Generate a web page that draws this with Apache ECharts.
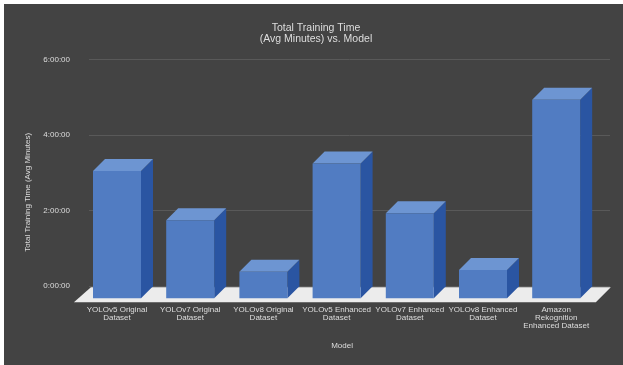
<!DOCTYPE html>
<html>
<head>
<meta charset="utf-8">
<style>html,body{margin:0;padding:0;background:#fff}#chart{width:623px;height:365px}</style>
<script src="https://cdn.jsdelivr.net/npm/echarts@6/dist/echarts.min.js"></script>
</head>
<body>
<div id="chart"></div>
<script>
// Average training time per model, in minutes
const models = [
  'YOLOv5 Original\nDataset',
  'YOLOv7 Original\nDataset',
  'YOLOv8 Original\nDataset',
  'YOLOv5 Enhanced\nDataset',
  'YOLOv7 Enhanced\nDataset',
  'YOLOv8 Enhanced\nDataset',
  'Amazon\nRekognition\nEnhanced Dataset'
];
const avgMinutes = [202, 124, 42, 214, 135, 45, 315];

const DEPTH = 12;        // pseudo-3D offset of the bars
const BAR_WIDTH = 48;
const FLOOR_DEPTH = 15;
const INK = '#dedede';
const FONT = '"Liberation Sans", Arial, sans-serif';

const formatClock = m => Math.floor(m / 60) + ':' + String(m % 60).padStart(2, '0') + ':00';

// One extruded bar: front face, lit top, shaded side
function renderBar(params, api) {
  const base = api.coord([api.value(0), 0]);
  const top = api.coord([api.value(0), api.value(1)]);
  const l = base[0] - BAR_WIDTH / 2, r = l + BAR_WIDTH;
  const t = top[1], b = base[1];
  return {
    type: 'group',
    children: [
      { type: 'polygon', shape: { points: [[r, t], [r + DEPTH, t - DEPTH], [r + DEPTH, b - DEPTH], [r, b]] },
        style: { fill: '#2a55a2' } },
      { type: 'polygon', shape: { points: [[l, t], [l + DEPTH, t - DEPTH], [r + DEPTH, t - DEPTH], [r, t]] },
        style: { fill: '#6d95d2' } },
      { type: 'rect', shape: { x: l, y: t, width: BAR_WIDTH, height: b - t },
        style: { fill: '#517cc2' } }
    ]
  };
}

// Pale floor slab below the bars, spanning the plot width
function renderFloor(params, api) {
  const cs = params.coordSys;
  const y = api.coord([0, 0])[1] + 4;
  const left = cs.x - 6.5, right = cs.x + cs.width + 3;
  return {
    type: 'polygon',
    shape: { points: [[left, y], [left + FLOOR_DEPTH + 2, y - FLOOR_DEPTH], [right + FLOOR_DEPTH, y - FLOOR_DEPTH], [right, y]] },
    style: { fill: '#ececec' }
  };
}

const chart = echarts.init(document.getElementById('chart'), null, { renderer: 'canvas' });
chart.setOption({
  animation: false,
  backgroundColor: '#ffffff',
  graphic: [{
    type: 'rect', z: -10, silent: true,
    shape: { x: 4, y: 4, width: 619, height: 361 },
    style: { fill: '#434343' }
  }],
  title: {
    text: 'Total Training Time\n(Avg Minutes) vs. Model',
    left: 311, top: 18, textAlign: 'center',
    textStyle: { color: INK, fontFamily: FONT, fontSize: 10.5, fontWeight: 'normal', lineHeight: 11 }
  },
  grid: [
    { left: 89, top: 59.4, width: 521, height: 226.8 },     // back wall carrying the gridlines
    { left: 80.4, top: 71.5, width: 512.4, height: 226.8 }  // front plane carrying the bars
  ],
  xAxis: [
    { gridIndex: 0, type: 'category', data: models, show: false },
    {
      gridIndex: 1, type: 'category', data: models,
      name: 'Model', nameLocation: 'middle', nameGap: 43,
      nameTextStyle: { color: INK, fontFamily: FONT, fontSize: 8, padding: [0, 0, 0, 11] },
      axisLine: { show: false }, axisTick: { show: false },
      axisLabel: { color: INK, fontFamily: FONT, fontSize: 8, lineHeight: 8, margin: 7, interval: 0 }
    }
  ],
  yAxis: [
    {
      gridIndex: 0, type: 'value', min: 0, max: 360, interval: 120,
      name: 'Total Training Time (Avg Minutes)', nameLocation: 'middle', nameGap: 57,
      nameTextStyle: { color: INK, fontFamily: FONT, fontSize: 8, padding: [0, 39, 0, 0] },
      axisLine: { show: false }, axisTick: { show: false },
      axisLabel: { color: INK, fontFamily: FONT, fontSize: 8, margin: 19, formatter: formatClock },
      splitLine: { lineStyle: { color: '#595959', width: 1 } }
    },
    { gridIndex: 1, type: 'value', min: 0, max: 360, interval: 120, show: false, splitLine: { show: false } }
  ],
  series: [
    { type: 'custom', xAxisIndex: 1, yAxisIndex: 1, renderItem: renderFloor, data: [[0, 0]], z: 1, silent: true },
    {
      type: 'custom', xAxisIndex: 1, yAxisIndex: 1, renderItem: renderBar, z: 2,
      encode: { x: 0, y: 1 },
      data: avgMinutes.map((v, i) => [i, v])
    }
  ]
});
</script>
</body>
</html>
